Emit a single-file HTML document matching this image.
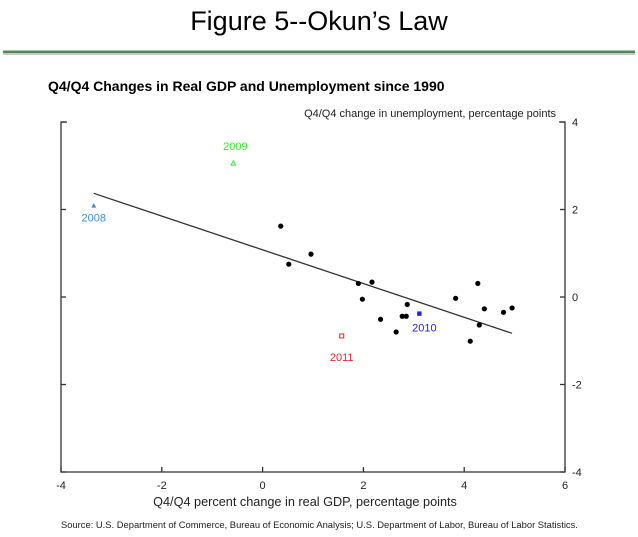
<!DOCTYPE html>
<html><head><meta charset="utf-8"><style>
body{margin:0;background:#fff;width:638px;height:532px;overflow:hidden;font-family:"Liberation Sans",sans-serif}
</style></head><body>
<svg width="638" height="532" xmlns="http://www.w3.org/2000/svg">
<text x="319" y="30" text-anchor="middle" font-size="27" fill="#000">Figure 5--Okun’s Law</text>
<rect x="3" y="53" width="632" height="2" fill="#c8c8c8"/>
<rect x="3" y="50.5" width="632" height="2.5" fill="#4a8a5a"/>
<text x="48" y="91" font-size="14" font-weight="bold" fill="#000">Q4/Q4 Changes in Real GDP and Unemployment since 1990</text>
<text x="556" y="117" text-anchor="end" font-size="11" fill="#222">Q4/Q4 change in unemployment, percentage points</text>
<text x="305" y="506" text-anchor="middle" font-size="12.7" fill="#222">Q4/Q4 percent change in real GDP, percentage points</text>
<text x="61" y="528" font-size="9.4" fill="#222">Source:  U.S. Department of Commerce, Bureau of Economic Analysis; U.S. Department of Labor, Bureau of Labor Statistics.</text>
<g id="plot"></g>
</svg>
<script>
const gdp = [0.36,0.52,0.96,1.90,2.17,1.98,2.34,2.65,2.77,2.85,2.87,3.83,4.27,4.40,4.30,4.12,4.78,4.95];
const unemp = [1.62,0.75,0.98,0.31,0.34,-0.05,-0.51,-0.80,-0.44,-0.44,-0.17,-0.03,0.31,-0.27,-0.64,-1.01,-0.35,-0.25];
const specialYears = ["2008","2009","2010","2011"];
const specialGdp = [-3.35,-0.58,3.11,1.57];
const specialUnemp = [2.09,3.06,-0.38,-0.89];
const fitX = [-3.35,4.95];
const fitY = [2.37,-0.83];
const xTicks = [-4,-2,0,2,4,6];
const yTicks = [4,2,0,-2,-4];
const yTickLabels = ["4","2","0","-2","-4"];

const L=61,R=565,T=122,B=472;
const sx=v=>L+(v+4)/10*(R-L);
const sy=v=>T+(4-v)/8*(B-T);
const NS="http://www.w3.org/2000/svg";
const g=document.getElementById('plot');
function mk(tag,attrs){const e=document.createElementNS(NS,tag);for(const k in attrs)e.setAttribute(k,attrs[k]);g.appendChild(e);return e;}
const ax={stroke:"#333","stroke-width":1.3,fill:"none"};
let e;
e=mk('path',Object.assign({d:`M${L+6},${T}H${L}V${B}H${R}V${T}H${R-6}`},ax));


xTicks.forEach(t=>{
  e=mk('line',Object.assign({x1:sx(t),x2:sx(t),y1:B,y2:B-5},ax));
  
  
  e=mk('text',{x:sx(t),y:B+17,'text-anchor':'middle','font-size':11,fill:'#222'});
  e.textContent=String(t);
  
  
});
yTicks.forEach((t,i)=>{
  e=mk('line',Object.assign({x1:R,x2:R-5,y1:sy(t),y2:sy(t)},ax));
  
  
  e=mk('line',Object.assign({x1:L,x2:L+5,y1:sy(t),y2:sy(t)},ax));
  
  
  e=mk('text',{x:R+7,y:sy(t)+4,'font-size':11,fill:'#222'});
  e.textContent=yTickLabels[i];
  
  
});
e=mk('line',{x1:sx(fitX[0]),y1:sy(fitY[0]),x2:sx(fitX[1]),y2:sy(fitY[1]),stroke:'#333','stroke-width':1.3});


gdp.forEach((v,i)=>{
  e=mk('circle',{cx:sx(v),cy:sy(unemp[i]),r:2.6,fill:'#000'});
  
  
});
const colors=["#3d8fd0","#33ee33","#2222ee","#ee2222"];
specialYears.forEach((yr,i)=>{
  const x=sx(specialGdp[i]),y=sy(specialUnemp[i]);
  if(i===0) e=mk('path',{d:`M${x-2.5},${y+2}L${x+2.5},${y+2}L${x},${y-2.5}Z`,fill:colors[i]});
  else if(i===1) e=mk('path',{d:`M${x-2.3},${y+2}L${x+2.3},${y+2}L${x},${y-2.3}Z`,fill:'none',stroke:colors[i],'stroke-width':1});
  else if(i===2) e=mk('rect',{x:x-2.2,y:y-2.2,width:4.4,height:4.4,fill:colors[i]});
  else e=mk('rect',{x:x-2,y:y-2,width:4,height:4,fill:'none',stroke:colors[i],'stroke-width':1});
  
  
  const dy=[ 16,-13, 18, 25][i], dx=[0,2,5,0][i];
  e=mk('text',{x:x+dx,y:y+dy,'text-anchor':'middle','font-size':11,fill:colors[i]});
  e.textContent=yr;
  
  
});
</script>
</body></html>
